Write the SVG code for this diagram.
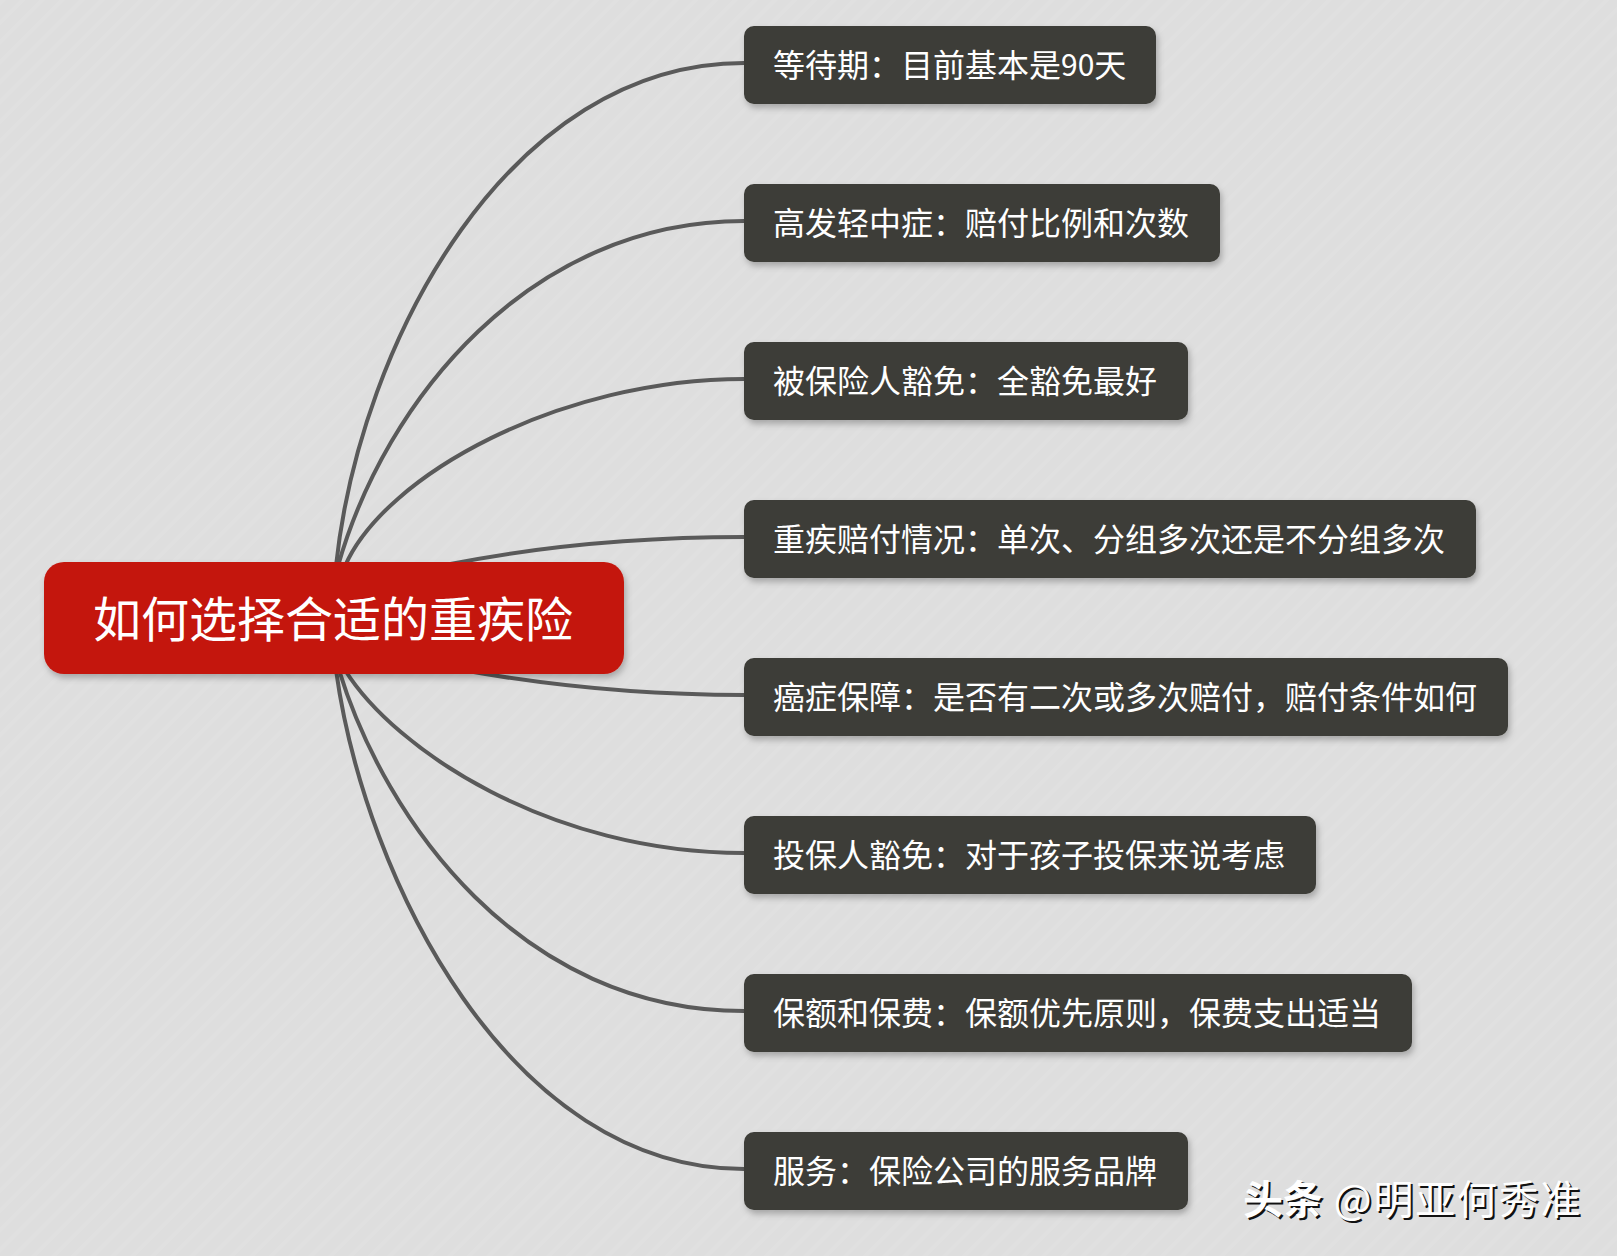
<svg xmlns="http://www.w3.org/2000/svg" width="1617" height="1256" viewBox="0 0 1617 1256">
<style>
.n{fill:#3c3c37;filter:url(#s)}
.t{fill:#fff;font-family:"Noto Sans CJK SC","Liberation Sans",sans-serif;font-size:32px;dominant-baseline:central}
.c{fill:none;stroke:#5a5a5a;stroke-width:4}
.w{font-family:"Noto Sans CJK SC",sans-serif;font-size:40px;letter-spacing:1.8px}
</style>
<defs>
<pattern id="bg" width="14" height="14" patternUnits="userSpaceOnUse" patternTransform="rotate(45)"><rect width="14" height="14" fill="#dedede"/><rect width="4" height="14" fill="#e0e0e0"/></pattern>
<filter id="s" x="-5%" y="-20%" width="110%" height="150%"><feDropShadow dx="2" dy="4" stdDeviation="3" flood-color="#000" flood-opacity=".25"/></filter>
</defs>
<rect width="1617" height="1256" fill="url(#bg)"/>
<g id="connectors">
<path class="c" d="M336 566C360 340 510 63 744 63"/>
<path class="c" d="M338 566C385 400 530 221 744 221"/>
<path class="c" d="M345 566C385 475 560 379 744 379"/>
<path class="c" d="M445 565C530 548 630 537 744 537"/>
<path class="c" d="M462 670C540 684 630 695 744 695"/>
<path class="c" d="M345 670C395 750 550 853 744 853"/>
<path class="c" d="M339 670C385 820 520 1011 744 1011"/>
<path class="c" d="M336 670C365 880 510 1169 744 1169"/>
</g>
<g id="center"><rect x="44" y="562" width="580" height="112" rx="20" fill="#c4190d" filter="url(#s)"/><text x="93" y="616" fill="#fff" font-family="'Noto Sans CJK SC',sans-serif" font-size="48" dominant-baseline="central">如何选择合适的重疾险</text></g>
<g id="n1"><rect class="n" x="744" y="26" width="412" height="78" rx="10"/><text class="t" x="773" y="63">等待期：目前基本是<tspan font-size="30">90</tspan>天</text></g>
<g id="n2"><rect class="n" x="744" y="184" width="476" height="78" rx="10"/><text class="t" x="773" y="221">高发轻中症：赔付比例和次数</text></g>
<g id="n3"><rect class="n" x="744" y="342" width="444" height="78" rx="10"/><text class="t" x="773" y="379">被保险人豁免：全豁免最好</text></g>
<g id="n4"><rect class="n" x="744" y="500" width="732" height="78" rx="10"/><text class="t" x="773" y="537">重疾赔付情况：单次、分组多次还是不分组多次</text></g>
<g id="n5"><rect class="n" x="744" y="658" width="764" height="78" rx="10"/><text class="t" x="773" y="695">癌症保障：是否有二次或多次赔付，赔付条件如何</text></g>
<g id="n6"><rect class="n" x="744" y="816" width="572" height="78" rx="10"/><text class="t" x="773" y="853">投保人豁免：对于孩子投保来说考虑</text></g>
<g id="n7"><rect class="n" x="744" y="974" width="668" height="78" rx="10"/><text class="t" x="773" y="1011">保额和保费：保额优先原则，保费支出适当</text></g>
<g id="n8"><rect class="n" x="744" y="1132" width="444" height="78" rx="10"/><text class="t" x="773" y="1169">服务：保险公司的服务品牌</text></g>
<text class="w" x="1245" y="1216" fill="#111"><tspan font-weight="700" letter-spacing="0">头条</tspan> @明亚何秀准</text>
<text class="w" x="1243" y="1214" fill="#fff"><tspan font-weight="700" letter-spacing="0">头条</tspan> @明亚何秀准</text>
</svg>
